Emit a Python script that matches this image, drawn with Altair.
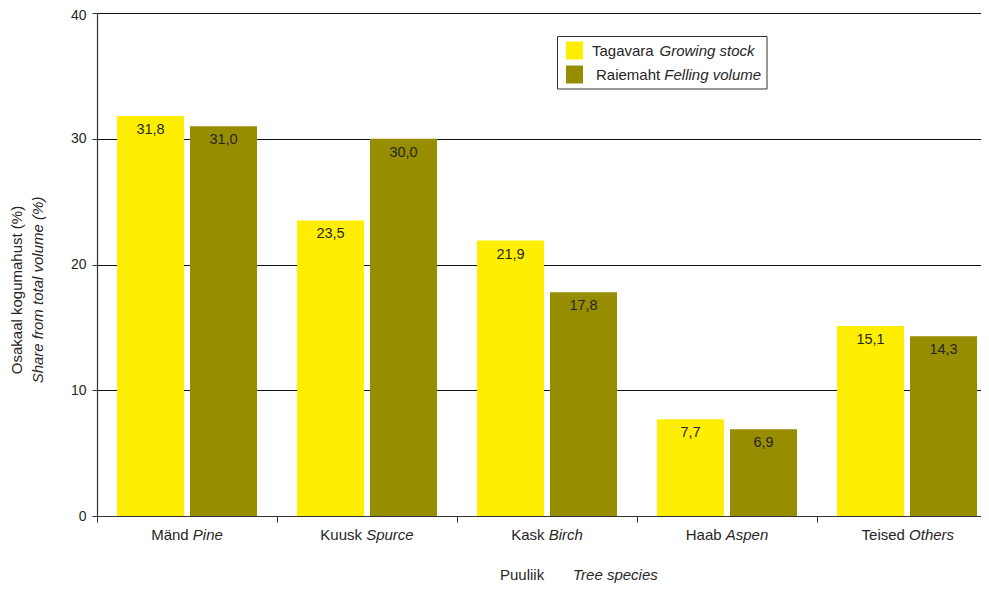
import altair as alt
import pandas as pd

# ---- data ----
species_et = ["Mänd", "Kuusk", "Kask", "Haab", "Teised"]
species_en = ["Pine", "Spurce", "Birch", "Aspen", "Others"]
series_et = ["Tagavara", "Raiemaht"]
series_en = ["Growing stock", "Felling volume"]
growing_stock = [31.8, 23.5, 21.9, 7.7, 15.1]
felling_volume = [31.0, 30.0, 17.8, 6.9, 14.3]
y_ticks = [0, 10, 20, 30, 40]
y_title_et = "Osakaal kogumahust  (%)"
y_title_en = "Share from total volume (%)"
x_title_et = "Puuliik"
x_title_en = "Tree species"
colors = ["#FFEE00", "#978D00"]

FONT = "Liberation Sans"
FS = 15
FS_VAL = 14.5
FS_TICK = 14
TEXT = "#262626"
LINE = "#333333"

# approximate Arial / Liberation Sans advance widths (per 1000 em)
W = {" ": 278, "M": 833, "ä": 556, "n": 556, "d": 556, "P": 667, "i": 222, "e": 556,
     "K": 667, "u": 556, "s": 500, "k": 500, "S": 667, "p": 556, "r": 333, "c": 500,
     "a": 556, "B": 667, "h": 556, "H": 722, "A": 667, "T": 611, "O": 778, "t": 278,
     "b": 556, "G": 778, "o": 556, "w": 722, "g": 556, "R": 722, "m": 833, "F": 611,
     "l": 222, "v": 500}


def tw(s, size=FS):
    return sum(W.get(ch, 556) for ch in s) * size / 1000.0


cats = [f"{a} {b}" for a, b in zip(species_et, species_en)]
series_keys = [f"{a} {b}" for a, b in zip(series_et, series_en)]

rows = []
for i, c in enumerate(cats):
    for s, vals in zip(series_keys, [growing_stock, felling_volume]):
        rows.append({"cat": c, "series": s, "value": vals[i],
                     "label": f"{vals[i]:.1f}".replace(".", ",")})
bars_df = pd.DataFrame(rows)
lab_df = pd.DataFrame({"cat": cats, "et": species_et, "en": species_en})

PAD_LEFT = 89
PAD_TOP = 5
PLOT_W = 884          # visible part; the band scale runs on to 900 and is clipped
PLOT_H = 503
PAD_BOTTOM = 68

x_scale = alt.Scale(domain=cats, paddingInner=0, paddingOuter=0, rangeMax=900)
xo_scale = alt.Scale(domain=series_keys, paddingInner=0.082, paddingOuter=0.274)
y_scale = alt.Scale(domain=[0, 40], nice=False)

x_axis = alt.Axis(labels=False, title=None, ticks=True, tickSize=6, bandPosition=0,
                  domainColor=LINE, tickColor=LINE, grid=False, domainWidth=1.2)
y_axis = alt.Axis(values=y_ticks, grid=True, gridColor="#111111", gridWidth=1,
                  tickSize=5, tickColor=LINE, domainColor=LINE, domainWidth=1.2,
                  labelFontSize=FS_TICK, labelColor=TEXT, labelPadding=6, title=None,
                  labelFont=FONT,
                  labelOffset={"condition": {"test": f"datum.value == {max(y_ticks)}", "value": 2.5},
                               "value": 0})

base = alt.Chart(bars_df)
bars = base.mark_bar().encode(
    x=alt.X("cat:N", scale=x_scale, axis=x_axis, sort=cats),
    xOffset=alt.XOffset("series:N", scale=xo_scale, sort=series_keys),
    y=alt.Y("value:Q", scale=y_scale, axis=y_axis),
    color=alt.Color("series:N", scale=alt.Scale(domain=series_keys, range=colors), legend=None),
)
vals = base.mark_text(baseline="middle", dy=14, fontSize=FS_VAL, font=FONT, color=TEXT).encode(
    x=alt.X("cat:N", scale=x_scale, sort=cats),
    xOffset=alt.XOffset("series:N", scale=xo_scale, sort=series_keys),
    y=alt.Y("value:Q", scale=y_scale),
    text="label:N",
)

layers = [bars, vals]

DY = 12 - 8 - PAD_TOP  # convert from "page y - 12" coordinates to plot coordinates
LAB_Y = 523

# category labels: regular Estonian name + italic English name, centred together
for c, et, en in zip(cats, species_et, species_en):
    total = tw(et) + tw(" ") + tw(en)
    off_n = -total / 2 + tw(et)
    sub = alt.Chart(lab_df).transform_filter(alt.datum.cat == c)
    layers.append(sub.mark_text(align="right", baseline="middle", fontSize=FS, font=FONT,
                                color=TEXT, dx=off_n).encode(
        x=alt.X("cat:N", scale=x_scale, sort=cats), y=alt.value(LAB_Y + DY), text="et:N"))
    layers.append(sub.mark_text(align="left", baseline="middle", fontSize=FS, font=FONT,
                                color=TEXT, fontStyle="italic", dx=off_n + tw(" ")).encode(
        x=alt.X("cat:N", scale=x_scale, sort=cats), y=alt.value(LAB_Y + DY), text="en:N"))

one = alt.Data(values=[{"k": 1}])


def txt(text, x, y, italic=False, align="left", angle=0, size=FS, baseline="middle"):
    kw = dict(align=align, baseline=baseline, fontSize=size, font=FONT, color=TEXT, text=text)
    if italic:
        kw["fontStyle"] = "italic"
    if angle:
        kw["angle"] = angle
    return alt.Chart(one).mark_text(**kw).encode(x=alt.value(x), y=alt.value(y + DY))


# axis titles
layers.append(txt(y_title_et, -80, 278, align="center", angle=270))
layers.append(txt(y_title_en, -59, 278, italic=True, align="center", angle=270))
layers.append(txt(x_title_et, 403, 568, baseline="alphabetic"))
layers.append(txt(x_title_en, 476, 568, italic=True, baseline="alphabetic"))

# legend
layers.append(alt.Chart(one).mark_rect(fill="white", stroke=LINE, strokeWidth=1).encode(
    x=alt.value(460.5), x2=alt.value(670), y=alt.value(24.5 + DY), y2=alt.value(77 + DY)))
leg_y = [38.5, 62.5]
leg_x = [495, 499]
for k in range(2):
    layers.append(alt.Chart(one).mark_rect(fill=colors[k]).encode(
        x=alt.value(469), x2=alt.value(486),
        y=alt.value(leg_y[k] - 9 + DY), y2=alt.value(leg_y[k] + 9 + DY)))
    layers.append(txt(series_et[k], leg_x[k], leg_y[k]))
    layers.append(txt(series_en[k], leg_x[k] + tw(series_et[k]) + tw(" "), leg_y[k], italic=True))

chart = alt.layer(*layers).properties(
    width=PLOT_W, height=PLOT_H,
    autosize=alt.AutoSizeParams(type="none"),
    padding={"left": PAD_LEFT, "top": PAD_TOP, "right": 0, "bottom": PAD_BOTTOM},
).configure_view(stroke=None).configure(font=FONT)

chart.save("out.html", embed_options={"renderer": "svg", "actions": False})
